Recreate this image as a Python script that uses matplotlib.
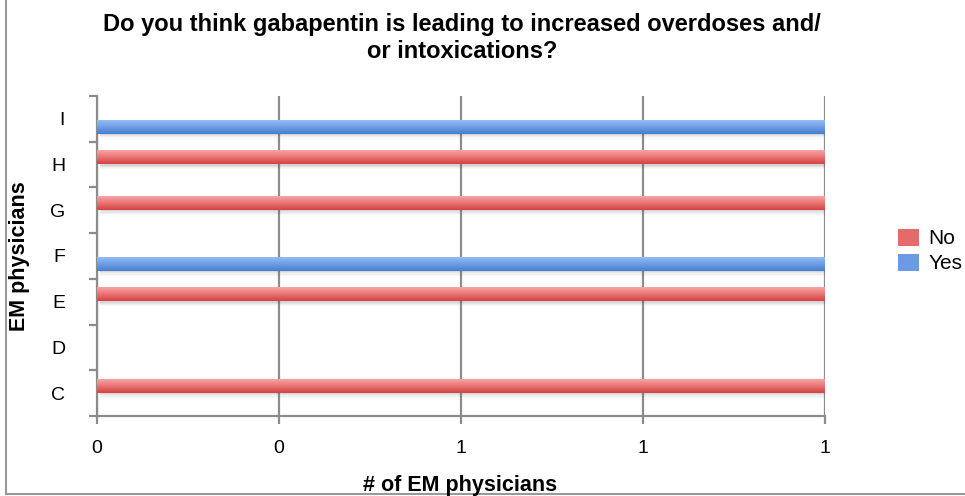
import numpy as np
import matplotlib
matplotlib.use('Agg')
import matplotlib.pyplot as plt
from matplotlib.lines import Line2D
from matplotlib.patches import Patch

plt.rcParams['font.family'] = ['Liberation Sans', 'DejaVu Sans']

# data
categories = ['C', 'D', 'E', 'F', 'G', 'H', 'I']
no_values = [1, 0, 1, 0, 1, 1, 0]
yes_values = [0, 0, 0, 1, 0, 0, 1]
xtick_values = [0, 0.25, 0.5, 0.75, 1]
xtick_labels = ['0', '0', '1', '1', '1']

title = 'Do you think gabapentin is leading to increased overdoses and/\nor intoxications?'

RED_TOP, RED_BOT = '#f9a5a5', '#d64242'
BLUE_TOP, BLUE_BOT = '#95bcf6', '#477ed1'
GRID = '#8c8c8c'


def gradient_bar(ax, patch, top, bot):
    x0, y0 = patch.get_x(), patch.get_y()
    w, h = patch.get_width(), patch.get_height()
    if w <= 0:
        return
    c1 = np.array(matplotlib.colors.to_rgb(top))
    c2 = np.array(matplotlib.colors.to_rgb(bot))
    t = np.linspace(0, 1, 64)[:, None]
    img = (c1 * (1 - t) + c2 * t)[:, None, :]
    # soft shadow under the bar
    for k, a in enumerate([0.10, 0.07, 0.05, 0.03]):
        ax.add_patch(plt.Rectangle((x0 + 0.004, y0 - 0.03 - 0.025 * k), w, h,
                                   color='#555555', alpha=a, lw=0, zorder=2))
    ax.imshow(img, extent=(x0, x0 + w, y0, y0 + h), origin='upper',
              aspect='auto', zorder=3, interpolation='bilinear')
    patch.set_visible(False)


fig = plt.figure(figsize=(9.65, 4.96), dpi=100)
ax = fig.add_axes([97 / 965, 80 / 496, 728 / 965, 320 / 496])

y = np.arange(len(categories))
bh = 0.29
no_bars = ax.barh(y + 0.15, no_values, height=bh, color=RED_BOT, label='No')
yes_bars = ax.barh(y - 0.18, yes_values, height=bh, color=BLUE_BOT, label='Yes')
for p in no_bars:
    gradient_bar(ax, p, RED_TOP, RED_BOT)
for p in yes_bars:
    gradient_bar(ax, p, BLUE_TOP, BLUE_BOT)

ax.set_xlim(0, 1.0)
ax.set_ylim(-0.5, len(categories) - 0.5)

ax.set_xticks(xtick_values)
ax.set_xticklabels(xtick_labels, fontsize=14)
ax.set_yticks(y)
ax.set_yticklabels(categories, fontsize=14)
ax.set_yticks(np.arange(-0.5, len(categories), 1), minor=True)
ax.tick_params(axis='y', which='major', length=0, pad=23)
ax.tick_params(axis='y', which='minor', length=6, width=1.6, color=GRID, direction='out')
ax.tick_params(axis='x', which='major', length=6, width=1.6, color=GRID, pad=11)

ax.grid(axis='x', color=GRID, lw=1.6, zorder=1)
ax.set_axisbelow(True)
for s in ['top', 'right']:
    ax.spines[s].set_visible(False)
for s in ['left', 'bottom']:
    ax.spines[s].set_color(GRID)
    ax.spines[s].set_linewidth(1.6)

fig.text(462 / 965, 1 - 38 / 496, title, ha='center', va='center',
         fontsize=17, fontweight='bold', linespacing=1.2)
fig.text(460 / 965, 1 - 485 / 496, '# of EM physicians', ha='center', va='center',
         fontsize=15.5, fontweight='bold')
fig.text(20 / 965, 1 - 256 / 496, 'EM physicians', ha='center', va='center',
         rotation=90, fontsize=15.5, fontweight='bold')

handles = [Patch(facecolor='#e56a6a', edgecolor='none', label='No'),
           Patch(facecolor='#6b9be2', edgecolor='none', label='Yes')]
fig.legend(handles=handles, loc='center left', bbox_to_anchor=(898 / 965, 1 - 251 / 496),
           frameon=False, fontsize=15, handlelength=1.0, handleheight=0.9,
           handletextpad=0.45, labelspacing=0.25, borderpad=0, borderaxespad=0)

# outer frame lines (left and bottom)
fig.add_artist(Line2D([6 / 965, 6 / 965], [2 / 496, 1], color='#999999', lw=1.5))
fig.add_artist(Line2D([6 / 965, 1], [2 / 496, 2 / 496], color='#999999', lw=1.5))

fig.savefig('out.png', dpi=100)
